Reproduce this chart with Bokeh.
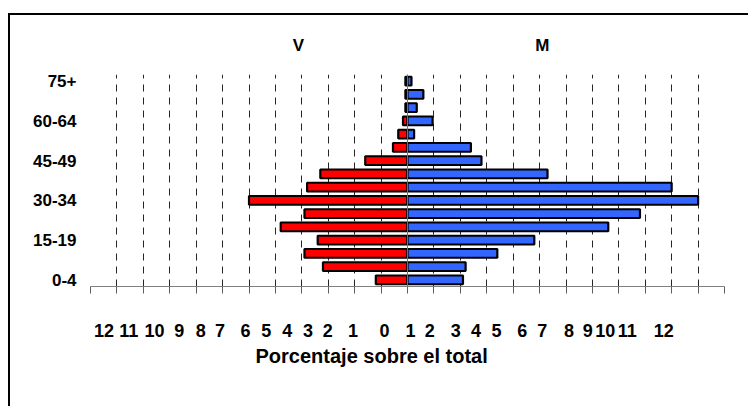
from bokeh.plotting import figure
from bokeh.models import (ColumnDataSource, FactorRange, Range1d, FixedTicker,
                          LinearAxis, Title, Span, CustomJSTickFormatter)
from bokeh.embed import file_html
from bokeh.resources import INLINE

# ---- data ----
age_groups = ["0-4", "5-9", "10-14", "15-19", "20-24", "25-29", "30-34", "35-39",
              "40-44", "45-49", "50-54", "55-59", "60-64", "65-69", "70-74", "75+"]
shown_groups = ["0-4", "15-19", "30-34", "45-49", "60-64", "75+"]
varones = [1.2, 3.2, 3.9, 3.4, 4.8, 3.9, 6.0, 3.8, 3.3, 1.6, 0.55, 0.35, 0.17, 0.08, 0.08, 0.08]
mujeres = [2.1, 2.2, 3.4, 4.8, 7.6, 8.8, 11.0, 10.0, 5.3, 2.8, 2.4, 0.25, 0.95, 0.35, 0.6, 0.15]
grid_ticks = list(range(-12, 13))
tick_labels = ["12", "11", "10", "9", "8", "7", "6", "5", "4", "3", "2", "1", "0",
               "1", "2", "3", "4", "5", "6", "7", "8", "9", "10", "11", "12"]
tick_label_pos = [-11.49, -10.55, -9.58, -8.64, -7.83, -7.10, -6.13, -5.35, -4.55, -3.77,
                  -3.02, -2.06, -0.87, 0.11, 0.84, 1.83, 2.59, 3.37, 4.34, 5.10, 6.11,
                  6.82, 7.49, 8.32, 9.70]
series_names = ["V", "M"]
series_label_pos = [-4.13, 5.10]
x_title = "Porcentaje sobre el total"

FONT = "Liberation Sans"
# chart frame: left/top edges at (8, 13), drawn as a shadow of the figure box
BW = 2
CX, CY = 8 + BW, 13 + BW   # canvas origin on the page
W, H = 750 - CX, 410 - CY - 2

src = ColumnDataSource(dict(age=age_groups,
                            v=[-x for x in varones],
                            m=mujeres))

p = figure(width=W, height=H, output_backend="svg", toolbar_location=None,
           y_range=FactorRange(*age_groups), x_range=Range1d(-12, 12),
           min_border_left=90 - CX, min_border_right=W - (724 - CX),
           min_border_top=74 - CY, min_border_bottom=H - (286 - CY),
           x_axis_location=None, margin=(CY, 0, 0, CX))
p.styles = {"box-shadow": f"-{BW}px -{BW}px 0 0 black"}
p.outline_line_color = None
p.background_fill_color = "white"
p.border_fill_color = "white"

# bars
p.hbar(y="age", left=0, right="v", height=0.66, source=src,
       fill_color="#FF0000", line_color="black", line_width=2.2)
p.hbar(y="age", left=0, right="m", height=0.66, source=src,
       fill_color="#3366FF", line_color="black", line_width=2.2)

# bottom axis: labels at their own positions, minor ticks at gridlines
xaxis = LinearAxis(ticker=FixedTicker(ticks=tick_label_pos, minor_ticks=grid_ticks),
                   major_label_overrides={t: l for t, l in zip(tick_label_pos, tick_labels)})
xaxis.axis_line_color = "#808080"
xaxis.axis_line_width = 1
xaxis.major_tick_line_color = None
xaxis.major_tick_out = 0
xaxis.major_tick_in = 0
xaxis.minor_tick_line_color = "#606060"
xaxis.minor_tick_out = 7
xaxis.minor_tick_in = 0
xaxis.major_label_standoff = 30
xaxis.major_label_text_font = FONT
xaxis.major_label_text_font_style = "bold"
xaxis.major_label_text_font_size = "18px"
xaxis.major_label_text_color = "black"
p.add_layout(xaxis, "below")

# x title (below the axis)
p.add_layout(Title(text=x_title, align="left", offset=165, standoff=6,
                   text_font=FONT, text_font_style="bold", text_font_size="20px",
                   text_color="black"), "below")

# top axis: series names
top = LinearAxis(ticker=FixedTicker(ticks=series_label_pos),
                 major_label_overrides={t: l for t, l in zip(series_label_pos, series_names)})
top.axis_line_color = None
top.major_tick_line_color = None
top.major_tick_out = 0
top.major_tick_in = 0
top.minor_tick_line_color = None
top.major_label_standoff = 20
top.major_label_text_font = FONT
top.major_label_text_font_style = "bold"
top.major_label_text_font_size = "17px"
top.major_label_text_color = "black"
p.add_layout(top, "above")

# grid
p.xgrid.ticker = FixedTicker(ticks=grid_ticks)
p.xgrid.grid_line_color = "black"
p.xgrid.grid_line_alpha = 0.85
p.xgrid.grid_line_dash = "7 6"
p.ygrid.grid_line_color = None

# y axis (categories), only every third group labelled
ya = p.yaxis[0]
ya.axis_line_color = None
ya.major_tick_line_color = None
ya.major_tick_out = 0
ya.major_tick_in = 0
ya.major_label_standoff = 14
ya.formatter = CustomJSTickFormatter(args=dict(shown=shown_groups),
                                     code="return shown.includes(tick) ? tick : '';")
ya.major_label_text_font = FONT
ya.major_label_text_font_style = "bold"
ya.major_label_text_font_size = "17px"
ya.major_label_text_color = "black"

# zero line
p.add_layout(Span(location=0, dimension="height", line_color="#707070", line_width=1))

open("out.html", "w").write(file_html(p, INLINE))
